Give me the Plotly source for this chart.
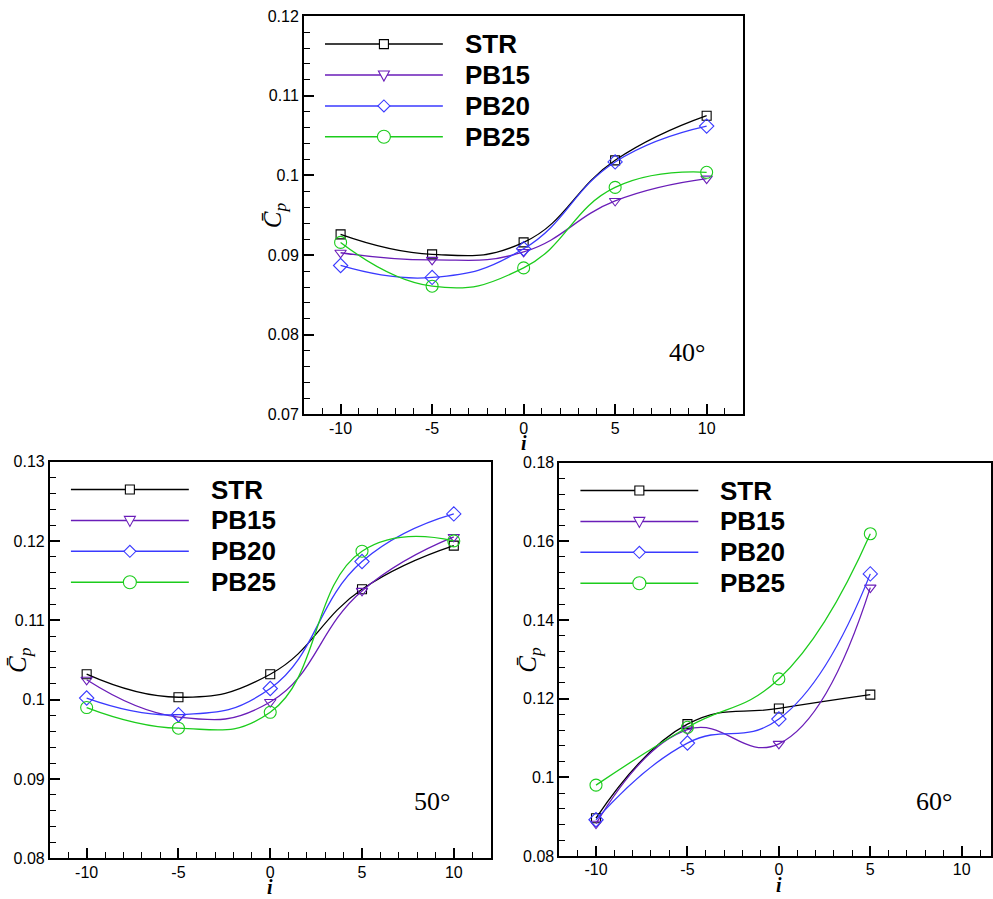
import plotly.graph_objects as go

# ---------------- data ----------------
series_names = ["STR", "PB15", "PB20", "PB25"]

x40 = [-10, -5, 0, 5, 10]
STR40 = [0.0926, 0.0901, 0.0916, 0.1019, 0.1075]
PB15_40 = [0.0903, 0.0894, 0.0904, 0.0968, 0.0996]
PB20_40 = [0.0887, 0.0872, 0.0908, 0.1017, 0.1062]
PB25_40 = [0.0916, 0.0861, 0.0884, 0.0985, 0.1004]

x50 = [-10, -5, 0, 5, 10]
STR50 = [0.1032, 0.1003, 0.1032, 0.1139, 0.1194]
PB15_50 = [0.1025, 0.0978, 0.0997, 0.1137, 0.1205]
PB20_50 = [0.1002, 0.0981, 0.1014, 0.1174, 0.1234]
PB25_50 = [0.0990, 0.0964, 0.0984, 0.1187, 0.1200]

x60 = [-10, -5, 0, 5]
STR60 = [0.0896, 0.1135, 0.1175, 0.1210]
PB15_60 = [0.0882, 0.1121, 0.1085, 0.1482]
PB20_60 = [0.0892, 0.1087, 0.1148, 0.1517]
PB25_60 = [0.0980, 0.1127, 0.1250, 0.1619]

xticks = [-10, -5, 0, 5, 10]
xticktext = ["-10", "-5", "0", "5", "10"]
yticks_40 = [0.07, 0.08, 0.09, 0.10, 0.11, 0.12]
yticktext_40 = ["0.07", "0.08", "0.09", "0.1", "0.11", "0.12"]
yticks_50 = [0.08, 0.09, 0.10, 0.11, 0.12, 0.13]
yticktext_50 = ["0.08", "0.09", "0.1", "0.11", "0.12", "0.13"]
yticks_60 = [0.08, 0.10, 0.12, 0.14, 0.16, 0.18]
yticktext_60 = ["0.08", "0.1", "0.12", "0.14", "0.16", "0.18"]
angle_labels = ["40°", "50°", "60°"]

# ---------------- styles ----------------
colors = ["#000000", "#6a1db8", "#3a3aff", "#1ccc1c"]
symbols = ["square-open", "triangle-down-open", "diamond-open", "circle-open"]
msizes = [9, 10, 11, 12]

W, H = 993, 899
# panel boxes in pixels: (left, right, top, bottom)
boxes = [(304.3, 744.0, 8.3, 414.3), (50.0, 491.0, 462.3, 866.7), (560.0, 992.0, 463.3, 864.3)]
xranges = [[-12, 12], [-12, 12], [-12, 11.6]]
yranges = [[0.07, 0.12], [0.08, 0.13], [0.08, 0.18]]
yminor = [0.002, 0.002, 0.004]
ytv = [yticks_40, yticks_50, yticks_60]
ytt = [yticktext_40, yticktext_50, yticktext_60]

panels = [
    (x40, [STR40, PB15_40, PB20_40, PB25_40]),
    (x50, [STR50, PB15_50, PB20_50, PB25_50]),
    (x60, [STR60, PB15_60, PB20_60, PB25_60]),
]

fig = go.Figure()
tickfont = dict(family="Liberation Sans, Arial", size=16, color="black")

shapes = []
annotations = []

for p, (xs, ys_list) in enumerate(panels):
    sfx = "" if p == 0 else str(p + 1)
    xa, ya = "x" + sfx, "y" + sfx
    for k, ys in enumerate(ys_list):
        fig.add_trace(go.Scatter(
            x=xs, y=ys, mode="lines+markers", name=series_names[k],
            xaxis=xa, yaxis=ya, showlegend=False,
            line=dict(color=colors[k], width=1.3, shape="spline", smoothing=1.3),
            marker=dict(symbol=symbols[k], size=msizes[k], color=colors[k],
                        line=dict(width=1.1, color=colors[k])),
            cliponaxis=False,
        ))
    L, R, T, B = boxes[p]
    bw, bh = R - L, B - T
    axis_common = dict(showgrid=False, zeroline=False, showline=True, linecolor="black",
                       linewidth=2, mirror=True, ticks="inside", tickcolor="black",
                       tickfont=tickfont)
    fig.update_layout(**{
        "xaxis" + sfx: dict(axis_common, domain=[L / W, R / W], range=xranges[p],
                            anchor=ya, tickvals=xticks, ticktext=xticktext,
                            ticklen=10, tickwidth=2, ticklabelstandoff=-2,
                            minor=dict(dtick=1, ticks="inside", ticklen=6, tickwidth=1,
                                       tickcolor="black")),
        "yaxis" + sfx: dict(axis_common, domain=[1 - B / H, 1 - T / H], range=yranges[p],
                            anchor=xa, tickvals=ytv[p], ticktext=ytt[p],
                            ticklen=10, tickwidth=2,
                            minor=dict(dtick=yminor[p], ticks="inside", ticklen=6,
                                       tickwidth=1, tickcolor="black")),
    })
    xd, yd = xa + " domain", ya + " domain"
    # manual legend
    rows = [28.5, 60.0, 91.5, 123.0]
    for k in range(4):
        yf = 1 - rows[k] / bh
        shapes.append(dict(type="line", xref=xd, yref=yd, x0=21 / bw, x1=139 / bw,
                           y0=yf, y1=yf, line=dict(color=colors[k], width=1.5)))
        mx = 80 / bw
        mk = dict(xref=xd, yref=yd, xsizemode="pixel", ysizemode="pixel",
                  xanchor=mx, yanchor=yf, line=dict(color=colors[k], width=1.1),
                  fillcolor="white")
        if k == 0:
            shapes.append(dict(mk, type="rect", x0=-4.5, x1=4.5, y0=-4.5, y1=4.5))
        elif k == 1:
            shapes.append(dict(mk, type="path", path="M-5.5,4 L5.5,4 L0,-6 Z"))
        elif k == 2:
            shapes.append(dict(mk, type="path", path="M-6,0 L0,6 L6,0 L0,-6 Z"))
        else:
            shapes.append(dict(mk, type="circle", x0=-6.5, x1=6.5, y0=-6.5, y1=6.5))
        annotations.append(dict(xref=xd, yref=yd, x=159 / bw, y=yf, xanchor="left",
                                yanchor="middle", showarrow=False,
                                text="<b>" + series_names[k] + "</b>",
                                font=dict(family="Liberation Sans, Arial", size=26,
                                          color="black")))
    # angle label
    ang_right = [36, 39, 37][p]
    ang_up = [63, 58, 56][p]
    annotations.append(dict(xref=xd, yref=yd, x=1 - ang_right / bw, y=ang_up / bh,
                            xanchor="right", yanchor="middle", showarrow=False,
                            text=angle_labels[p],
                            font=dict(family="Liberation Serif, Times New Roman", size=26,
                                      color="black")))
    # axis titles
    annotations.append(dict(xref=xd, yref=yd, x=0, y=0.5, xshift=-30, xanchor="center",
                            yanchor="middle", textangle=-90, showarrow=False,
                            text="<i>C\u0304</i><sub><i>p</i></sub>",
                            font=dict(family="Liberation Serif, Times New Roman", size=25,
                                      color="black")))
    annotations.append(dict(xref=xa, yref=yd, x=0, y=0, yshift=-29, xanchor="center",
                            yanchor="middle", showarrow=False, text="<b><i>i</i></b>",
                            font=dict(family="Liberation Serif, Times New Roman", size=20,
                                      color="black")))

fig.update_layout(
    width=W, height=H, margin=dict(l=0, r=0, t=0, b=0),
    paper_bgcolor="white", plot_bgcolor="white",
    shapes=shapes, annotations=annotations, showlegend=False,
)

fig.write_html("out.html")
